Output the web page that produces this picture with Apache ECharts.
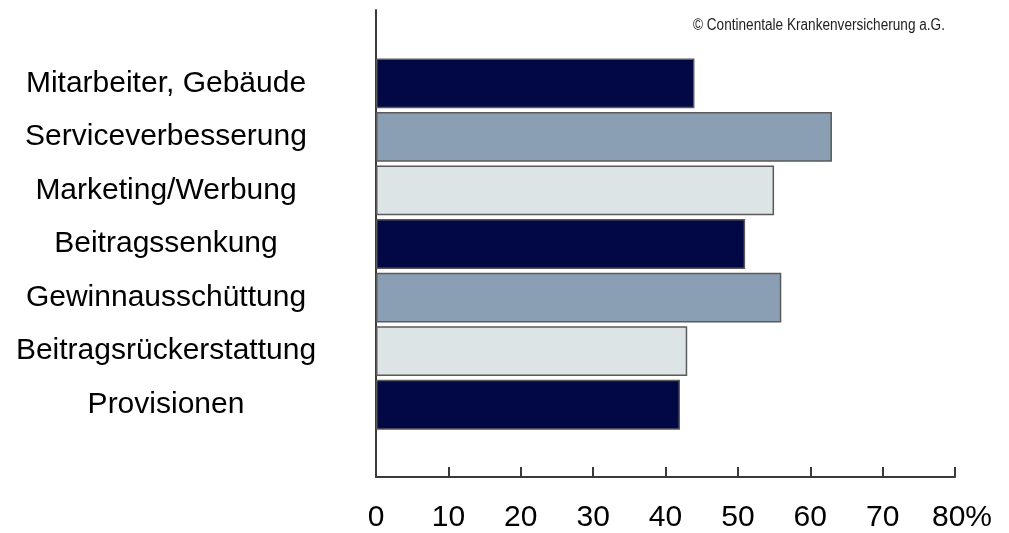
<!DOCTYPE html>
<html>
<head>
<meta charset="utf-8">
<script src="https://cdn.jsdelivr.net/npm/echarts@6/dist/echarts.min.js"></script>
<style>
html,body{margin:0;padding:0;background:#fff;}
#chart{width:1009px;height:533px;}
</style>
</head>
<body>
<div id="chart"></div>
<script>
// Data
const categories = ['Mitarbeiter, Gebäude', 'Serviceverbesserung', 'Marketing/Werbung', 'Beitragssenkung', 'Gewinnausschüttung', 'Beitragsrückerstattung', 'Provisionen'];
const values = [44, 63, 55, 51, 56, 43, 42];
const xTickLabels = ['0', '10', '20', '30', '40', '50', '60', '70', '80%'];
const copyrightText = '© Continentale Krankenversicherung a.G.';

// Styles
const barColors = ['#020843', '#8a9fb3', '#dce4e6'];
const FONT = "'Liberation Sans', Arial, sans-serif";

const chart = echarts.init(document.getElementById('chart'), null, {renderer: 'canvas'});

const option = {
  backgroundColor: '#ffffff',
  animation: false,
  graphic: [
    {
      type: 'text',
      left: 693,
      top: 18,
      scaleX: 0.85,
      originX: 0,
      style: {
        text: copyrightText,
        fontFamily: FONT,
        fontSize: 16,
        fill: '#222'
      }
    }
  ],
  grid: [
    {left: 376, width: 579, top: 10, height: 468},
    {left: 376, width: 579, top: 56.5, height: 375}
  ],
  xAxis: [
    {
      gridIndex: 0,
      type: 'value',
      min: 0, max: 80, interval: 10,
      axisLine: {show: true, lineStyle: {color: '#3a3a3a', width: 2}},
      axisTick: {show: true, inside: true, length: 10, lineStyle: {color: '#3a3a3a', width: 2}},
      splitLine: {show: false},
      axisLabel: {
        margin: 26,
        fontFamily: FONT,
        fontSize: 30,
        color: '#000',
        formatter: function (v) {
          const lbl = xTickLabels[Math.round(v / 10)];
          if (v === 80) return '{last|' + lbl + '}';
          return lbl;
        },
        rich: {
          last: {fontFamily: FONT, fontSize: 30, color: '#000', padding: [0, 0, 0, 14]}
        }
      }
    },
    {
      gridIndex: 1,
      type: 'value',
      min: 0, max: 80, interval: 10,
      show: false
    }
  ],
  yAxis: [
    {
      gridIndex: 0,
      type: 'value',
      min: 0, max: 1,
      axisLine: {show: true, lineStyle: {color: '#3a3a3a', width: 2}},
      axisTick: {show: false},
      axisLabel: {show: false},
      splitLine: {show: false}
    },
    {
      gridIndex: 1,
      type: 'category',
      inverse: true,
      data: categories,
      axisLine: {show: false},
      axisTick: {show: false},
      axisLabel: {
        margin: 210,
        align: 'center',
        fontFamily: FONT,
        fontSize: 30,
        color: '#000'
      }
    }
  ],
  series: [
    {
      type: 'bar',
      xAxisIndex: 1,
      yAxisIndex: 1,
      barCategoryGap: '7%',
      data: values.map(function (v, i) {
        return {
          value: v,
          itemStyle: {
            color: barColors[i % 3],
            borderColor: '#5a5a5a',
            borderWidth: 1.5
          }
        };
      })
    }
  ]
};

chart.setOption(option);
</script>
</body>
</html>
